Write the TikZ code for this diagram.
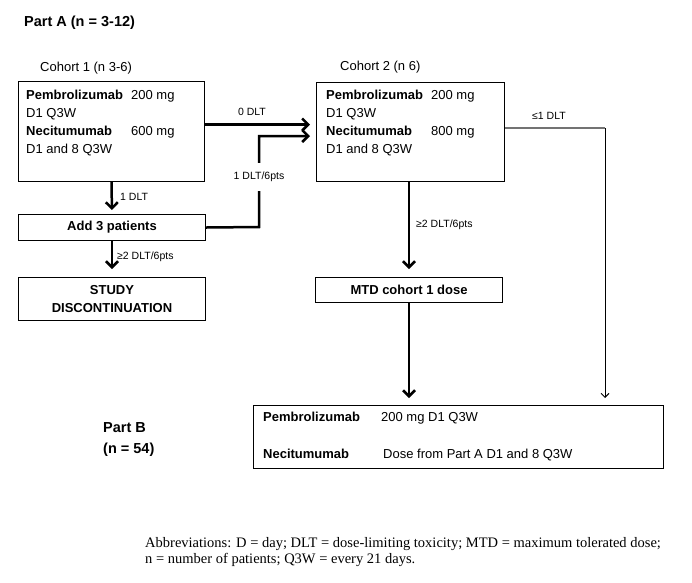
\documentclass[tikz,border=0pt]{standalone}
\usepackage{fontspec}
\setmainfont{Liberation Sans}
\newfontfamily\abbrfont{Liberation Serif}
\usetikzlibrary{arrows.meta}
\begin{document}
\begin{tikzpicture}[x=1pt,y=-1pt,
  box/.style={draw, line width=1pt, anchor=north west, inner sep=0pt},
  txt/.style={anchor=base west, inner sep=0pt, font=\fontsize{13}{15}\selectfont},
  btxt/.style={anchor=base west, inner sep=0pt, font=\fontsize{13}{15}\selectfont\bfseries},
  title/.style={anchor=base west, inner sep=0pt, font=\fontsize{14.5}{17}\selectfont\bfseries},
  lbl/.style={inner sep=0pt, font=\fontsize{10.5}{12}\selectfont},
  abbr/.style={anchor=base west, inner sep=0pt, font=\abbrfont\fontsize{14.5}{16}\selectfont},
  arr/.style={line width=2.5pt, -{Straight Barb[length=6pt,width=12pt]}},
  thinarr/.style={line width=1pt, -{Straight Barb[length=4pt,width=8pt]}}
]
\useasboundingbox (0,0) rectangle (692,582);

% titles
\node[title] (pa) at (24,26) {Part A (n = 3-12)};
\node[txt] (c1lab) at (40,71.5) {Cohort 1 (n 3-6)};
\node[txt] (c2lab) at (340,70.5) {Cohort 2 (n 6)};

% boxes
\node[box, minimum width=186pt, minimum height=100pt] (c1) at (18,81) {};
\node[box, minimum width=188pt, minimum height=99pt] (c2) at (316,82) {};
\node[box, minimum width=187pt, minimum height=26pt, font=\fontsize{13}{15}\selectfont\bfseries] (add) at (18,214) {Add 3 patients};
\node[box, minimum width=187pt, minimum height=43pt, align=center, font=\fontsize{13}{18}\selectfont\bfseries] (study) at (18,277) {STUDY\\DISCONTINUATION};
\node[box, minimum width=187pt, minimum height=25pt, font=\fontsize{13}{15}\selectfont\bfseries] (mtd) at (315,277) {MTD cohort 1 dose};
\node[box, minimum width=410pt, minimum height=63pt] (pb) at (253,405) {};

% cohort 1 text
\node[btxt] (c1p) at (26,99.5) {Pembrolizumab};
\node[txt] (c1pd) at (131,99.5) {200 mg};
\node[txt] (c1ps) at (26,117) {D1 Q3W};
\node[btxt] (c1n) at (26,135.5) {Necitumumab};
\node[txt] (c1nd) at (131,135.5) {600 mg};
\node[txt] (c1ns) at (26,153.5) {D1 and 8 Q3W};

% cohort 2 text
\node[btxt] (c2p) at (326,99.5) {Pembrolizumab};
\node[txt] (c2pd) at (431,99.5) {200 mg};
\node[txt] (c2ps) at (326,117) {D1 Q3W};
\node[btxt] (c2n) at (326,135.5) {Necitumumab};
\node[txt] (c2nd) at (431,135.5) {800 mg};
\node[txt] (c2ns) at (326,153.5) {D1 and 8 Q3W};

% part B
\node[title] (pbl1) at (103,432) {Part B};
\node[title] (pbl2) at (103,453) {(n = 54)};
\node[btxt] (pbp) at (263,421.5) {Pembrolizumab};
\node[txt] (pbpd) at (381,421.5) {200 mg D1 Q3W};
\node[btxt] (pbn) at (263,458.5) {Necitumumab};
\node[txt] (pbnd) at (383,458.5) {Dose from Part A D1 and 8 Q3W};

% connectors
\coordinate (k1) at (259,227);
\coordinate (k2) at (259,136);
\coordinate (k3) at (605,128);
\draw[arr, shorten >=6pt] (c1.east |- 0,124.5) -- (c2.west |- 0,124.5);
\draw[arr, shorten >=4pt] (c1.south) -- (add.north);
\draw[arr, shorten >=8pt] (add.south) -- (study.north);
\draw[arr, shorten >=6pt] (add.east) -- (k1) -- (k2) -- (c2.west |- k2);
\draw[arr, shorten >=8pt] (c2.south -| mtd.north) -- (mtd.north);
\draw[arr, shorten >=7pt] (mtd.south) -- (pb.north -| mtd.south);
\draw[line width=1.2pt, black!55] (c2.east |- k3) -- (k3);
\draw[thinarr, shorten >=7pt] (k3) -- (pb.north -| k3);

% labels
\node[lbl] (l0) at (252,112) {0 DLT};
\node[lbl, fill=white, inner xsep=2pt, inner ysep=9pt] (l16) at (259,177) {1 DLT/6pts};
\node[lbl, anchor=west] (l1) at (120,197) {1 DLT};
\node[lbl, anchor=west] (l2a) at (117,257) {≥2 DLT/6pts};
\node[lbl, anchor=west] (l2b) at (416,225) {≥2 DLT/6pts};
\node[lbl, anchor=west] (lle) at (532,116) {≤1 DLT};

% abbreviations
\node[abbr] (ab1) at (145,547.5) {Abbreviations: D = day; DLT = dose-limiting toxicity; MTD = maximum tolerated dose;};
\node[abbr] (ab2) at (145,563) {n = number of patients; Q3W = every 21 days.};
\end{tikzpicture}
\end{document}
